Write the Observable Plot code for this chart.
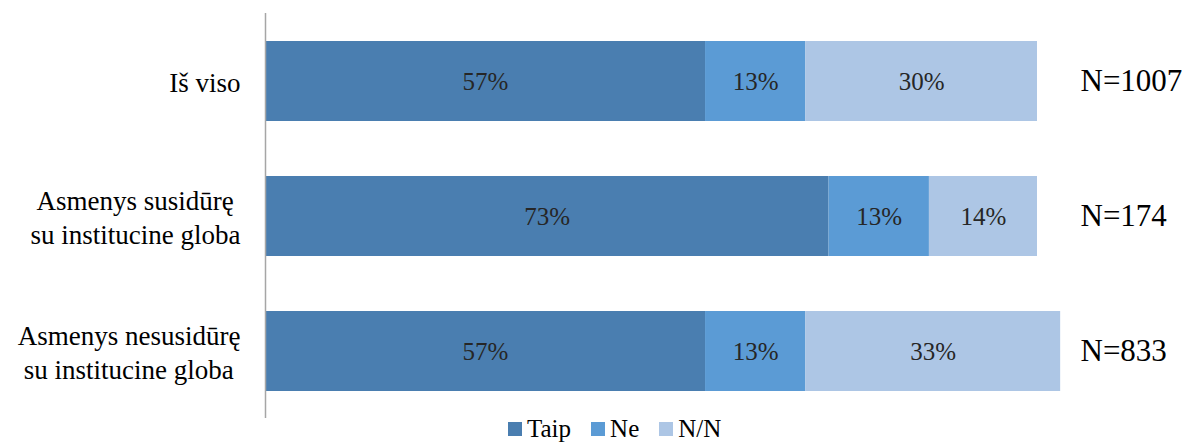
<!DOCTYPE html>
<html><head><meta charset="utf-8">
<script src="https://cdn.jsdelivr.net/npm/d3@7"></script>
<script src="https://cdn.jsdelivr.net/npm/@observablehq/plot@0.6"></script>
<style>
body{margin:0;background:#fff;}
#wrap{position:relative;width:1187px;height:444px;}
#legend{position:absolute;left:508px;top:417px;display:flex;align-items:center;font-family:"Liberation Serif","Times New Roman",Tinos,"DejaVu Serif",serif;font-size:25px;line-height:24px;color:#000;}
#legend .it{display:flex;align-items:center;margin-right:20px;}
#legend .sw{width:14px;height:14px;margin-right:5px;}
svg text, svg tspan{font-family:"Liberation Serif","Times New Roman",Tinos,"DejaVu Serif",serif !important;}
</style></head>
<body><div id="wrap"><div id="chart"></div><div id="legend"></div></div>
<script>
const categories = ["Iš viso", "Asmenys susidūrę \nsu institucine globa", "Asmenys nesusidūrę\nsu institucine globa "];
const series = ["Taip", "Ne", "N/N"];
const taip = [57, 73, 57];
const ne = [13, 13, 13];
const nn = [30, 14, 33];
const nLabels = ["N=1007", "N=174", "N=833"];
const colors = ["#4a7eb0", "#5b9bd5", "#adc6e5"];

const FONT = '"Liberation Serif","Times New Roman",Tinos,"DejaVu Serif",serif';
const rows = [];
categories.forEach((c, i) => {
  [taip[i], ne[i], nn[i]].forEach((v, j) => rows.push({cat: c, series: series[j], value: v}));
});
const nRows = categories.map((c, i) => ({cat: c, label: nLabels[i]}));

const plot = Plot.plot({
  width: 1187, height: 420,
  marginLeft: 265, marginRight: 150, marginTop: 13, marginBottom: 2,
  style: {"font-family": FONT, background: "#fff", overflow: "visible"},
  x: {domain: [0, 100], axis: null},
  y: {domain: categories, paddingInner: 0.41, paddingOuter: 0.205, label: null},
  color: {domain: series, range: colors},
  marks: [
    Plot.barX(rows, Plot.stackX({y: "cat", x: "value", fill: "series", z: "series", order: series})),
    Plot.text(rows, Plot.stackX({y: "cat", x: "value", z: "series", order: series, text: d => d.value + "%", fontSize: 25, fontFamily: FONT, fill: "#262626"})),
    Plot.text(nRows, {y: "cat", x: () => 100, text: "label", textAnchor: "start", dx: 43, fontSize: 31, fontFamily: FONT, fill: "#000"}),
    Plot.axisY({tickSize: 0, tickPadding: 25, fontSize: 27, fontFamily: FONT, lineHeight: 1.25, fill: "#000", label: null}),
    Plot.ruleX([0], {stroke: "#a6a6a6", strokeWidth: 1.5})
  ]
});
document.getElementById("chart").appendChild(plot);

const lg = document.getElementById("legend");
series.forEach((s, i) => {
  const it = document.createElement("div"); it.className = "it";
  const sw = document.createElement("div"); sw.className = "sw"; sw.style.background = colors[i];
  const t = document.createElement("span"); t.textContent = s;
  it.appendChild(sw); it.appendChild(t); lg.appendChild(it);
});
</script></body></html>
